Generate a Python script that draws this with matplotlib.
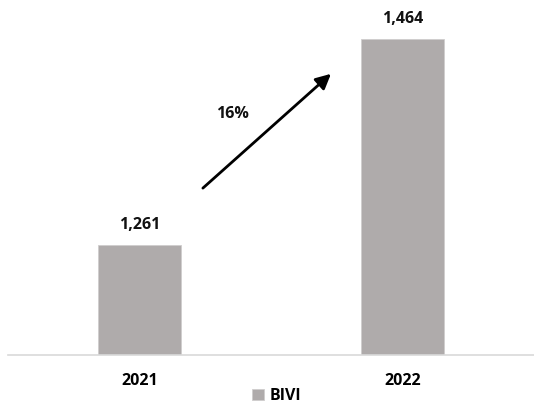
import matplotlib.pyplot as plt

plt.rcParams['font.family'] = ['Open Sans', 'DejaVu Sans']

years = ["2021", "2022"]
values = [1261, 1464]
series_name = "BIVI"
growth_label = "16%"

BAR_COLOR = "#AFABAB"

fig = plt.figure(figsize=(5.34, 4.05), dpi=100)
ax = fig.add_axes([8 / 534, 50 / 405, 526 / 534, 355 / 405])

x = range(len(years))
bars = ax.bar(x, values, width=0.315, color=BAR_COLOR, edgecolor="#D0CECE",
              linewidth=0.6, label=series_name, zorder=2)
for xi, v in zip(x, values):
    ax.text(xi, v + 12, f"{v:,}", ha="center", va="bottom",
            fontsize=11.5, fontweight="bold", color="#111111")

ax.set_xlim(-0.5, 1.5)
ax.set_ylim(1152, 1503)
ax.set_yticks([])
ax.set_xticks(list(x))
ax.set_xticklabels(years, fontsize=11.5, fontweight="bold")
ax.tick_params(axis="x", length=0, pad=13)
for side in ["top", "right", "left"]:
    ax.spines[side].set_visible(False)
ax.spines["bottom"].set_color("#D9D9D9")
ax.spines["bottom"].set_linewidth(1.2)

# growth arrow
ax.annotate("", xy=(0.728, 1430), xytext=(0.241, 1317),
            arrowprops=dict(arrowstyle="-|>,head_length=0.9,head_width=0.45",
                            color="black", lw=2, shrinkA=0, shrinkB=0))
ax.text(0.355, 1390, growth_label, ha="center", va="center",
        fontsize=11.5, fontweight="bold", color="#111111")

leg = fig.legend(handles=[bars], labels=[series_name], loc="center",
                 bbox_to_anchor=(277 / 534, 1 - 396 / 405), frameon=False,
                 handlelength=0.7, handleheight=0.7, handletextpad=0.4,
                 prop=dict(size=11.5, weight="bold"))

fig.savefig("out.png", dpi=100)
